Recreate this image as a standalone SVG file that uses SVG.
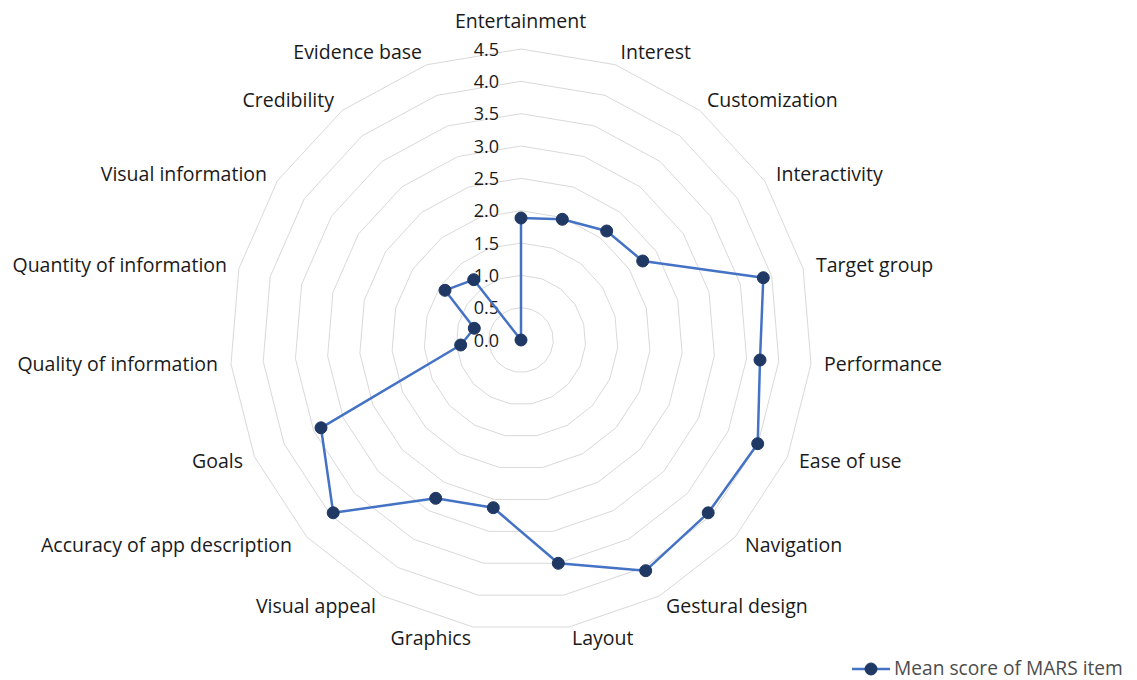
<svg xmlns="http://www.w3.org/2000/svg" xmlns:xlink="http://www.w3.org/1999/xlink" width="1137" height="680" viewBox="0 0 1137 680">
<style>
.ring{fill:none;stroke:#d9d9d9;stroke-width:1;vector-effect:non-scaling-stroke}
.lbl{font-family:"Open Sans","Liberation Sans",sans-serif;font-size:19.5px;fill:#1a1a1a}
.tick{font-family:"Open Sans","Liberation Sans",sans-serif;font-size:18px;fill:#1a1a1a;text-anchor:end}
.s{text-anchor:start}.e{text-anchor:end}.m{text-anchor:middle}
.series{fill:none;stroke:#4472c4;stroke-width:2.5;stroke-linejoin:round}
.mk{fill:#1f3864;stroke:#1f3864;stroke-width:1}
.leg{font-family:"Open Sans","Liberation Sans",sans-serif;font-size:19.2px;fill:#4d4d4d}
</style>
<defs>
<polygon id="ring" class="ring" points="0,-1 0.3247,-0.9458 0.6142,-0.7891 0.8372,-0.5469 0.9694,-0.2455 0.9966,0.0826 0.9158,0.4017 0.7357,0.6773 0.4759,0.8795 0.1646,0.9864 -0.1646,0.9864 -0.4759,0.8795 -0.7357,0.6773 -0.9158,0.4017 -0.9966,0.0826 -0.9694,-0.2455 -0.8372,-0.5469 -0.6142,-0.7891 -0.3247,-0.9458"/>
</defs>
<rect width="1137" height="680" fill="#ffffff"/>
<g id="grid">
<use xlink:href="#ring" transform="translate(521,340) scale(32.33)"/>
<use xlink:href="#ring" transform="translate(521,340) scale(64.67)"/>
<use xlink:href="#ring" transform="translate(521,340) scale(97)"/>
<use xlink:href="#ring" transform="translate(521,340) scale(129.33)"/>
<use xlink:href="#ring" transform="translate(521,340) scale(161.67)"/>
<use xlink:href="#ring" transform="translate(521,340) scale(194)"/>
<use xlink:href="#ring" transform="translate(521,340) scale(226.33)"/>
<use xlink:href="#ring" transform="translate(521,340) scale(258.67)"/>
<use xlink:href="#ring" transform="translate(521,340) scale(291)"/>
</g>
<g id="scale">
<text class="tick" x="499" y="346.5">0.0</text>
<text class="tick" x="499" y="314.2">0.5</text>
<text class="tick" x="499" y="281.8">1.0</text>
<text class="tick" x="499" y="249.5">1.5</text>
<text class="tick" x="499" y="217.2">2.0</text>
<text class="tick" x="499" y="184.8">2.5</text>
<text class="tick" x="499" y="152.5">3.0</text>
<text class="tick" x="499" y="120.2">3.5</text>
<text class="tick" x="499" y="87.8">4.0</text>
<text class="tick" x="499" y="55.5">4.5</text>
</g>
<g id="labels">
<text id="l-entertainment" class="lbl m" x="520.5" y="28">Entertainment</text>
<text id="l-interest" class="lbl s" x="620.5" y="59">Interest</text>
<text id="l-customization" class="lbl s" x="707" y="107">Customization</text>
<text id="l-interactivity" class="lbl s" x="776" y="181">Interactivity</text>
<text id="l-target" class="lbl s" x="816" y="272">Target group</text>
<text id="l-performance" class="lbl s" x="824" y="371">Performance</text>
<text id="l-ease" class="lbl s" x="799" y="468">Ease of use</text>
<text id="l-navigation" class="lbl s" x="745" y="552">Navigation</text>
<text id="l-gestural" class="lbl s" x="666" y="613">Gestural design</text>
<text id="l-layout" class="lbl s" x="572" y="645">Layout</text>
<text id="l-graphics" class="lbl e" x="471" y="645">Graphics</text>
<text id="l-visualappeal" class="lbl e" x="376" y="612.5">Visual appeal</text>
<text id="l-accuracy" class="lbl e" x="292" y="552">Accuracy of app description</text>
<text id="l-goals" class="lbl e" x="243" y="468">Goals</text>
<text id="l-quality" class="lbl e" x="218" y="370.5">Quality of information</text>
<text id="l-quantity" class="lbl e" x="227" y="272">Quantity of information</text>
<text id="l-visualinfo" class="lbl e" x="267" y="180.5">Visual information</text>
<text id="l-credibility" class="lbl e" x="334" y="107">Credibility</text>
<text id="l-evidence" class="lbl e" x="422" y="59">Evidence base</text>
</g>
<g id="connectors">
<polygon class="series" points="521,218 562.3,219.3 606.7,231 642.7,261 763.3,277.7 760,360 757.7,443.7 708.2,512.8 645.7,570.7 558.3,563.3 493.3,507.7 435.7,498.3 333.2,512.8 321,427.8 460.7,345 474.3,328.3 445,290.3 473.7,279.7 521,340"/>
</g>
<g id="markers">
<circle class="mk" cx="521" cy="218" r="6"/>
<circle class="mk" cx="562.3" cy="219.3" r="6"/>
<circle class="mk" cx="606.7" cy="231" r="6"/>
<circle class="mk" cx="642.7" cy="261" r="6"/>
<circle class="mk" cx="763.3" cy="277.7" r="6"/>
<circle class="mk" cx="760" cy="360" r="6"/>
<circle class="mk" cx="757.7" cy="443.7" r="6"/>
<circle class="mk" cx="708.2" cy="512.8" r="6"/>
<circle class="mk" cx="645.7" cy="570.7" r="6"/>
<circle class="mk" cx="558.3" cy="563.3" r="6"/>
<circle class="mk" cx="493.3" cy="507.7" r="6"/>
<circle class="mk" cx="435.7" cy="498.3" r="6"/>
<circle class="mk" cx="333.2" cy="512.8" r="6"/>
<circle class="mk" cx="321" cy="427.8" r="6"/>
<circle class="mk" cx="460.7" cy="345" r="6"/>
<circle class="mk" cx="474.3" cy="328.3" r="6"/>
<circle class="mk" cx="445" cy="290.3" r="6"/>
<circle class="mk" cx="473.7" cy="279.7" r="6"/>
<circle class="mk" cx="521" cy="340" r="6"/>
</g>
<g id="legend">
<line x1="852" y1="669" x2="890" y2="669" stroke="#4472c4" stroke-width="2.5"/>
<circle class="mk" cx="871" cy="669" r="6"/>
<text class="leg" x="894" y="674.5">Mean score of MARS item</text>
</g>
</svg>
